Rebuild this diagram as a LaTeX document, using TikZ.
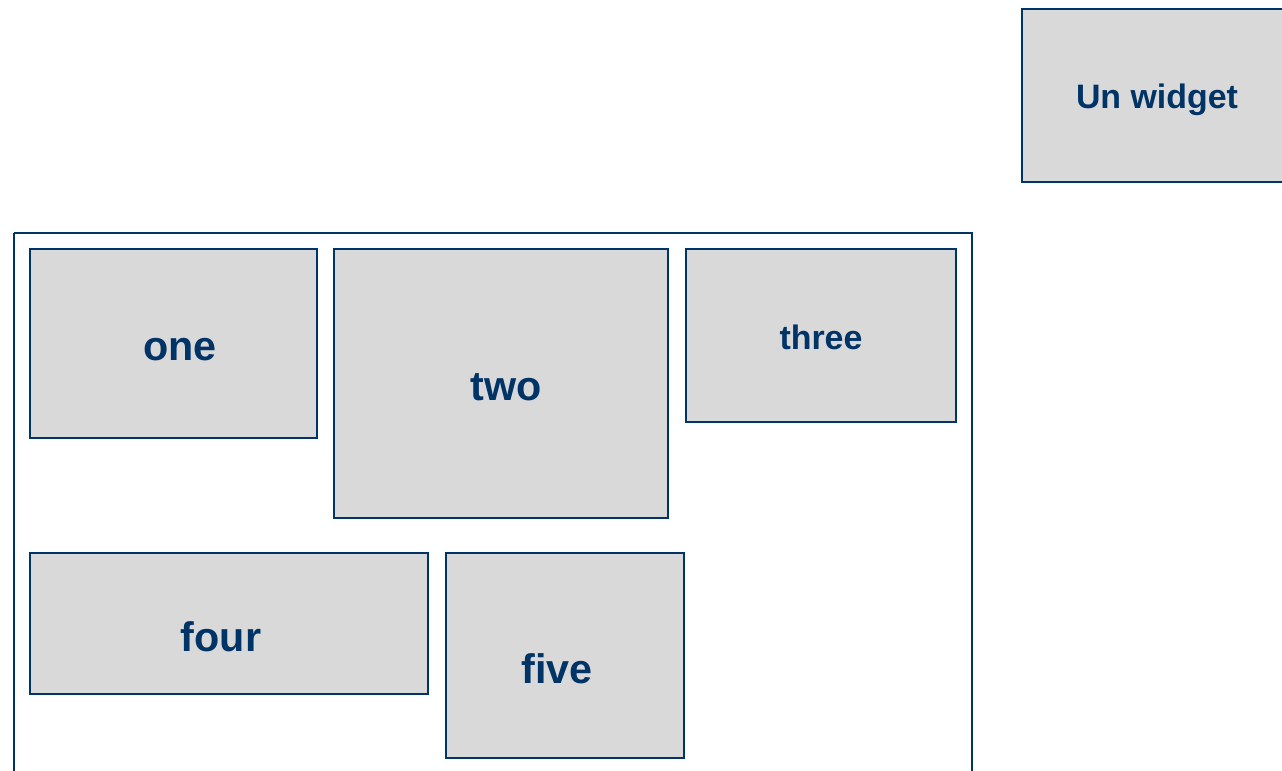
\documentclass[tikz,border=0pt]{standalone}
\usepackage{fontspec}
\setmainfont{Liberation Sans}
\definecolor{navy}{HTML}{003366}
\definecolor{boxgray}{HTML}{D9D9D9}

\begin{document}
\begin{tikzpicture}[x=0.02cm, y=-0.02cm,
  box/.style={draw=navy, fill=boxgray, line width=1.4pt},
  frame/.style={draw=navy, line width=1.4pt},
  big/.style={font=\bfseries\fontsize{23.5}{28}\selectfont, text=navy, anchor=base, inner sep=0pt},
  small/.style={big, font=\bfseries\fontsize{19.3}{23}\selectfont}]

% page size of the reference (pixels)
\useasboundingbox (0,0) rectangle (1282,771);

% the widget up right
\draw[box] (1022,9) rectangle (1290,182);
\node[small] (widget) at (1157,108) {Un widget};

% the container
\draw[frame] (14,233) -- (14,790) (14,233) -- (972,233) -- (972,790);

% first row
\draw[box] (30,249) rectangle (317,438);
\node[big] (one) at (180,360) {one};
\draw[box] (334,249) rectangle (668,518);
\node[big] (two) at (506,400) {two};
\draw[box] (686,249) rectangle (956,422);
\node[small] (three) at (821,349) {three};

% second row
\draw[box] (30,553) rectangle (428,694);
\node[big] (four) at (221,651) {four};
\draw[box] (446,553) rectangle (684,758);
\node[big] (five) at (557,683) {five};
\end{tikzpicture}
\end{document}
